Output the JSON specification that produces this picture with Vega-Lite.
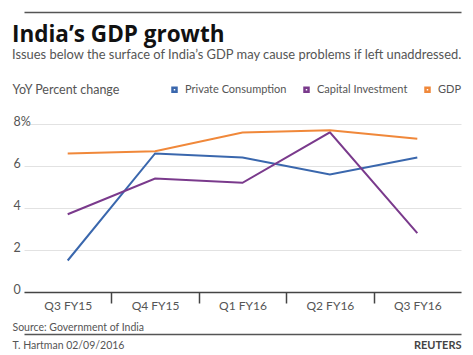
{
  "$schema": "https://vega.github.io/schema/vega-lite/v6.json",
  "width": 437,
  "height": 168,
  "autosize": "none",
  "padding": {"left": 24, "top": 124, "right": 12, "bottom": 63},
  "background": "white",
  "title": {
    "text": "India’s GDP growth",
    "subtitle": "Issues below the surface of India’s GDP may cause problems if left unaddressed.",
    "anchor": "start",
    "frame": "group",
    "dx": -12,
    "offset": -50,
    "font": "Open Sans",
    "fontSize": 22.5,
    "fontWeight": "bold",
    "color": "#111111",
    "subtitleFont": "Lato",
    "subtitleFontSize": 12.9,
    "subtitleColor": "#555555",
    "subtitlePadding": 3
  },
  "config": {"view": {"stroke": null}, "font": "Lato"},
  "data": {
    "values": [
      {"quarter": "Q3 FY15", "series": "Private Consumption", "value": 1.5},
      {"quarter": "Q4 FY15", "series": "Private Consumption", "value": 6.6},
      {"quarter": "Q1 FY16", "series": "Private Consumption", "value": 6.4},
      {"quarter": "Q2 FY16", "series": "Private Consumption", "value": 5.6},
      {"quarter": "Q3 FY16", "series": "Private Consumption", "value": 6.4},
      {"quarter": "Q3 FY15", "series": "Capital Investment", "value": 3.7},
      {"quarter": "Q4 FY15", "series": "Capital Investment", "value": 5.4},
      {"quarter": "Q1 FY16", "series": "Capital Investment", "value": 5.2},
      {"quarter": "Q2 FY16", "series": "Capital Investment", "value": 7.6},
      {"quarter": "Q3 FY16", "series": "Capital Investment", "value": 2.8},
      {"quarter": "Q3 FY15", "series": "GDP", "value": 6.6},
      {"quarter": "Q4 FY15", "series": "GDP", "value": 6.7},
      {"quarter": "Q1 FY16", "series": "GDP", "value": 7.6},
      {"quarter": "Q2 FY16", "series": "GDP", "value": 7.7},
      {"quarter": "Q3 FY16", "series": "GDP", "value": 7.3}
    ]
  },
  "layer": [
    {
      "mark": {"type": "line", "strokeWidth": 2},
      "encoding": {
        "x": {
          "field": "quarter",
          "type": "nominal",
          "sort": ["Q3 FY15", "Q4 FY15", "Q1 FY16", "Q2 FY16", "Q3 FY16"],
          "scale": {"paddingInner": 0, "paddingOuter": 0},
          "axis": {
            "orient": "bottom",
            "title": "Source: Government of India",
            "titleX": -12,
            "titleY": 35,
            "titleAlign": "left",
            "titleAnchor": null,
            "titleBaseline": "middle",
            "titleFont": "Lato",
            "titleFontSize": 10.5,
            "titleFontWeight": "normal",
            "titleColor": "#555555",
            "labelFont": "Lato",
            "labelFontSize": 12,
            "labelColor": "#555555",
            "labelAngle": 0,
            "labelPadding": -3,
            "tickOffset": 43.7,
            "labelOffset": -43.7,
            "tickSize": 11,
            "tickWidth": 1.5,
            "tickColor": "#444444",
            "tickOpacity": {"condition": {"test": "datum.value == 'Q3 FY16'", "value": 0}, "value": 1},
            "domainColor": "#444444",
            "domainWidth": 1.5,
            "grid": false
          }
        },
        "y": {
          "field": "value",
          "type": "quantitative",
          "scale": {"domain": [0, 8]},
          "axis": {
            "values": [0, 2, 4, 6, 8],
            "labelExpr": "datum.value == 8 ? '8%' : datum.label",
            "title": "YoY Percent change",
            "titleX": -12,
            "titleY": -35,
            "titleAngle": 0,
            "titleAlign": "left",
            "titleAnchor": null,
            "titleBaseline": "middle",
            "titleFont": "Lato",
            "titleFontSize": 12.5,
            "titleFontWeight": "normal",
            "titleColor": "#555555",
            "labelFont": "Lato",
            "labelFontSize": 12.5,
            "labelColor": "#555555",
            "labelAlign": "left",
            "labelBaseline": "alphabetic",
            "labelPadding": 11,
            "labelOffset": 1,
            "ticks": false,
            "tickSize": 0,
            "domain": false,
            "grid": true,
            "gridColor": "#e2e2e2",
            "gridWidth": 1
          }
        },
        "color": {
          "field": "series",
          "type": "nominal",
          "scale": {
            "domain": ["Private Consumption", "Capital Investment", "GDP"],
            "range": ["#3a67ad", "#7a3a8c", "#f0883a"]
          },
          "legend": {
            "orient": "none",
            "legendX": 145,
            "legendY": -40,
            "direction": "horizontal",
            "title": null,
            "symbolType": "square",
            "symbolSize": 16,
            "symbolStrokeWidth": 2.5,
            "labelFont": "Lato",
            "labelFontSize": 11,
            "labelColor": "#555555",
            "labelOffset": 5,
            "columnPadding": 12
          }
        }
      }
    },
    {
      "mark": {"type": "point", "opacity": 0},
      "encoding": {
        "x": {
          "field": "quarter",
          "type": "nominal",
          "sort": ["Q3 FY15", "Q4 FY15", "Q1 FY16", "Q2 FY16", "Q3 FY16"],
          "axis": {
            "orient": "bottom",
            "offset": 42,
            "labels": false,
            "ticks": false,
            "grid": false,
            "domainColor": "#555555",
            "domainWidth": 1.5,
            "title": "T. Hartman 02/09/2016",
            "titleX": -12,
            "titleY": 11.5,
            "titleAlign": "left",
            "titleAnchor": null,
            "titleBaseline": "middle",
            "titleFont": "Lato",
            "titleFontSize": 10.5,
            "titleFontWeight": "normal",
            "titleColor": "#555555"
          }
        }
      }
    },
    {
      "mark": {"type": "point", "opacity": 0},
      "encoding": {
        "x": {
          "field": "quarter",
          "type": "nominal",
          "sort": ["Q3 FY15", "Q4 FY15", "Q1 FY16", "Q2 FY16", "Q3 FY16"],
          "axis": {
            "orient": "top",
            "offset": 112,
            "labels": false,
            "ticks": false,
            "grid": false,
            "domainColor": "#555555",
            "domainWidth": 1.5,
            "title": "REUTERS",
            "titleX": 437,
            "titleY": 333,
            "titleAlign": "right",
            "titleAnchor": null,
            "titleBaseline": "middle",
            "titleFont": "Lato",
            "titleFontSize": 11,
            "titleFontWeight": "bold",
            "titleColor": "#444444"
          }
        }
      }
    }
  ],
  "resolve": {"axis": {"x": "independent"}}
}
